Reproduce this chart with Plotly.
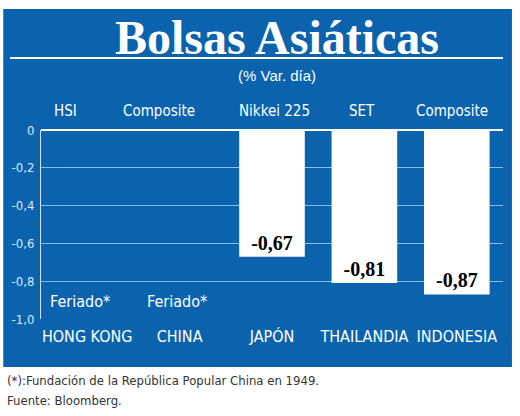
import plotly.graph_objects as go

# datos
paises = ["HONG KONG", "CHINA", "JAPÓN", "THAILANDIA", "INDONESIA"]
indices = ["HSI", "Composite", "Nikkei 225", "SET", "Composite"]
variacion = [None, None, -0.67, -0.81, -0.87]
etiquetas = ["", "", "-0,67", "-0,81", "-0,87"]
feriados = ["HONG KONG", "CHINA"]
y_ticks = [0, -0.2, -0.4, -0.6, -0.8, -1.0]
y_ticktext = ["0", "-0,2", "-0,4", "-0,6", "-0,8", "-1,0"]

azul = "#0b63ae"
grid = "#7fc0ee"
narrow = "DejaVu Sans Condensed, sans-serif"

fig = go.Figure()
fig.add_trace(go.Bar(
    x=paises, y=variacion, text=etiquetas,
    marker=dict(color="white", line=dict(width=0)),
    width=0.71,
    textposition="inside", insidetextanchor="end", textangle=0,
    textfont=dict(family="Liberation Serif", size=20, color="black",
                  weight="bold"),
    hoverinfo="skip",
))

# panel azul de fondo
fig.add_shape(type="rect", xref="paper", yref="paper", layer="below",
              x0=-0.0817, x1=1.0194, y0=-0.254, y1=1.640,
              fillcolor=azul, line=dict(width=0))
# linea bajo el titulo
fig.add_shape(type="line", xref="paper", yref="paper",
              x0=-0.067, x1=1.0, y0=1.381, y1=1.381,
              line=dict(color="white", width=2))

ann = []
ann.append(dict(text="<b>Bolsas Asiáticas</b>", xref="paper", yref="paper",
                x=0.51, y=1.492, xanchor="center", yanchor="middle",
                showarrow=False,
                font=dict(family="Liberation Serif", size=48, color="white")))
ann.append(dict(text="(% Var. día)", xref="paper", yref="paper",
                x=0.51, y=1.291, xanchor="center", yanchor="middle",
                showarrow=False,
                font=dict(family="Liberation Sans", size=15, color="white")))
shifts = [-22, -21, 2, -2, -5]
for p, nombre, dx in zip(paises, indices, shifts):
    ann.append(dict(text=nombre, x=p, xref="x", yref="paper", y=1.1,
                    xanchor="center", yanchor="middle",
                    xshift=dx, showarrow=False,
                    font=dict(family=narrow, size=15, color="white")))
for p, dx in zip(feriados, [-7, -3]):
    ann.append(dict(text="Feriado*", x=p, xref="x", y=-0.908, yref="y",
                    xanchor="center", yanchor="middle",
                    xshift=dx, showarrow=False,
                    font=dict(family=narrow, size=16, color="white")))
ann.append(dict(text="(*):Fundación de la República Popular China en 1949.",
                xref="paper", yref="paper", x=-0.077, y=-0.323,
                xanchor="left", yanchor="middle", showarrow=False,
                font=dict(family=narrow, size=13, color="#333333")))
ann.append(dict(text="Fuente: Bloomberg.",
                xref="paper", yref="paper", x=-0.077, y=-0.429,
                xanchor="left", yanchor="middle", showarrow=False,
                font=dict(family=narrow, size=13, color="#333333")))

fig.update_layout(
    width=520, height=416,
    margin=dict(l=38, r=17, t=130, b=97),
    paper_bgcolor="white", plot_bgcolor="rgba(0,0,0,0)",
    showlegend=False, hovermode=False,
    annotations=ann,
    xaxis=dict(showgrid=False, showline=False, ticks="",
               ticklabelstandoff=6,
               tickfont=dict(family=narrow, size=16, color="white")),
    yaxis=dict(range=[-1.0, 0], tickvals=y_ticks, ticktext=y_ticktext,
               showgrid=True, gridcolor=grid, gridwidth=1,
               zeroline=True, zerolinecolor="white", zerolinewidth=2,
               showline=True, linecolor="#cfe6fa", linewidth=1,
               ticklabelstandoff=3,
               tickfont=dict(family=narrow, size=13, color="#dbe8f5")),
)

fig.write_html("out.html", config={"displayModeBar": False},
               post_script="document.body.style.margin='0';")
